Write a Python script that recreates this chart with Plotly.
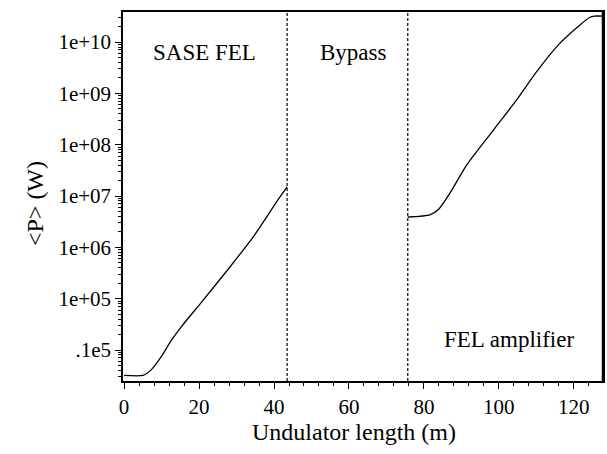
import math
import plotly.graph_objects as go

# SASE FEL section (undulator length in m, power in W)
sase_x = [0, 5, 7.2, 10, 12.5, 15.2, 20.5, 27.7, 34.7, 41, 43.5]
sase_p = [3.2e3, 3.2e3, 4.1e3, 7.6e3, 1.5e4, 2.8e4, 8.3e4, 3.7e5, 1.7e6, 8.3e6, 1.5e7]

# FEL amplifier section
amp_x = [75.7, 81.6, 84.0, 87.0, 91.4, 98.5, 104.7, 110, 116.2, 121.5, 124.2, 125.5, 127.8]
amp_p = [3.9e6, 4.3e6, 5.6e6, 1.15e7, 4.0e7, 1.9e8, 7.4e8, 2.6e9, 9.3e9, 2.1e10, 3.0e10,
         3.2e10, 3.2e10]

# section boundaries (m)
boundaries = [43.5, 75.7]

# axis ticks
y_tickvals = [1e4, 1e5, 1e6, 1e7, 1e8, 1e9, 1e10]
y_ticktext = [".1e5", "1e+05", "1e+06", "1e+07", "1e+08", "1e+09", "1e+10"]
x_tickvals = [0, 20, 40, 60, 80, 100, 120]

section_labels = ["SASE FEL", "Bypass", "FEL amplifier"]
section_label_x = [21.5, 61.2, 102.7]
section_label_y = [6.2e9, 6.2e9, 1.6e4]

FONT = "Liberation Serif"

fig = go.Figure()
fig.add_trace(go.Scatter(x=sase_x, y=sase_p, mode="lines",
                         line=dict(color="black", width=1.3, shape="spline", smoothing=0.6),
                         showlegend=False))
fig.add_trace(go.Scatter(x=amp_x, y=amp_p, mode="lines",
                         line=dict(color="black", width=1.3, shape="spline", smoothing=0.6),
                         showlegend=False))

for b in boundaries:
    fig.add_vline(x=b, line=dict(color="black", width=1.2, dash="3px,2px"))

# thicker right border as in the original
fig.add_shape(type="line", xref="paper", yref="paper", x0=1, x1=1, y0=0, y1=1,
              line=dict(color="black", width=2.5))

minor_y = [m * 10 ** e for e in range(3, 11) for m in range(2, 10)]

fig.update_xaxes(range=[-0.3, 127.8], tickvals=x_tickvals, ticks="outside", ticklen=6,
                 tickcolor="black", showline=True, linecolor="black", linewidth=1.5, mirror=True,
                 showgrid=False, zeroline=False, automargin=False,
                 minor=dict(dtick=4, tick0=0, ticks="outside", ticklen=3, tickcolor="black"),
                 tickfont=dict(family=FONT, size=21, color="black"))
fig.update_yaxes(type="log", range=[3.396, 10.585], tickvals=y_tickvals, ticktext=y_ticktext,
                 ticks="outside", ticklen=6, tickcolor="black", showline=True, linecolor="black",
                 linewidth=1.5, mirror=True, showgrid=False, zeroline=False, automargin=False,
                 minor=dict(tickmode="array", tickvals=minor_y, ticks="outside", ticklen=3,
                            tickcolor="black"),
                 tickfont=dict(family=FONT, size=21, color="black"))

annotations = []
for t, x, y in zip(section_labels, section_label_x, section_label_y):
    annotations.append(dict(text=t, x=x, y=math.log10(y), xref="x", yref="y",
                            showarrow=False, font=dict(family=FONT, size=23, color="black")))
annotations.append(dict(text="Undulator length (m)", x=0.481, y=-0.138, xref="paper", yref="paper",
                        showarrow=False, xanchor="center", yanchor="middle",
                        font=dict(family=FONT, size=24, color="black")))
annotations.append(dict(text="&lt;P&gt; (W)", x=-0.183, y=0.48, xref="paper", yref="paper",
                        showarrow=False, textangle=-90, xanchor="center", yanchor="middle",
                        font=dict(family=FONT, size=24, color="black")))

fig.update_layout(width=607, height=454, margin=dict(l=123, r=4, t=12, b=73),
                  font=dict(family=FONT),
                  paper_bgcolor="white", plot_bgcolor="white", annotations=annotations)

fig.write_html("out.html", config={"displayModeBar": False},
               post_script="document.body.style.margin='0';document.body.style.overflow='hidden';")
